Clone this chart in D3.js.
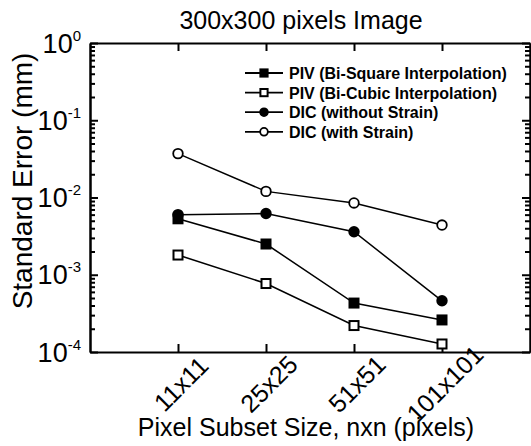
<!DOCTYPE html>
<html>
<head>
<meta charset="utf-8">
<script src="https://cdn.jsdelivr.net/npm/d3@7"></script>
<style>
body { margin: 0; background: #fff; }
svg text { font-family: Arial, "Liberation Sans", sans-serif; fill: #000; }
</style>
</head>
<body>
<div id="chart"></div>
<script>
var categories = ["11x11", "25x25", "51x51", "101x101"];
var pivSquare = [0.0053, 0.0025, 0.00043, 0.00026];
var pivCubic = [0.0018, 0.00077, 0.00022, 0.000127];
var dicNoStrain = [0.0060, 0.0062, 0.0036, 0.00046];
var dicStrain = [0.037, 0.012, 0.0085, 0.0044];
var seriesNames = ["PIV (Bi-Square Interpolation)", "PIV (Bi-Cubic Interpolation)", "DIC (without Strain)", "DIC (with Strain)"];
var yMajor = [1e-4, 1e-3, 1e-2, 1e-1, 1];
var yExp = ["-4", "-3", "-2", "-1", "0"];

var W = 531, H = 446;
// plot box (note: "top" is taken by window.top)
var plotL = 90, plotR = 530, plotT = 43, plotB = 352;

var svg = d3.select("#chart").append("svg")
	.attr("width", W)
	.attr("height", H);

var x = d3.scalePoint().domain(categories).range([plotL, plotR]).padding(1);
var y = d3.scaleLog().domain([1e-4, 1]).range([plotB, plotT]);

// minor ticks 2..9 per decade
var yMinor = [];
for (var e = -4; e < 0; e++)
	for (var m = 2; m <= 9; m++)
		yMinor.push(m * Math.pow(10, e));

function styleAxis(g) {
	g.selectAll("path,line").attr("stroke", "#000").attr("stroke-width", 2);
	g.selectAll("text").remove();
}

svg.append("g").attr("transform", "translate(" + plotL + ",0)")
	.call(d3.axisLeft(y).tickValues(yMajor).tickSize(-8).tickSizeOuter(0)).call(styleAxis);
svg.append("g").attr("transform", "translate(" + plotL + ",0)")
	.call(d3.axisLeft(y).tickValues(yMinor).tickSize(-5).tickSizeOuter(0)).call(styleAxis);
svg.append("g").attr("transform", "translate(" + plotR + ",0)")
	.call(d3.axisRight(y).tickValues(yMajor).tickSize(-8).tickSizeOuter(0)).call(styleAxis);
svg.append("g").attr("transform", "translate(" + plotR + ",0)")
	.call(d3.axisRight(y).tickValues(yMinor).tickSize(-5).tickSizeOuter(0)).call(styleAxis);
svg.append("g").attr("transform", "translate(0," + plotB + ")")
	.call(d3.axisBottom(x).tickSize(-8).tickSizeOuter(0)).call(styleAxis);
svg.append("g").attr("transform", "translate(0," + plotT + ")")
	.call(d3.axisTop(x).tickSize(-8).tickSizeOuter(0)).call(styleAxis);

// y tick labels with superscript
var yl = svg.selectAll(".ylab").data(yMajor).enter().append("text")
	.attr("class", "ylab")
	.attr("x", 81)
	.attr("y", function(d) { return y(d) + 9.5; })
	.attr("text-anchor", "end")
	.style("font-size", "27px");
yl.append("tspan").text("10");
yl.append("tspan").attr("dy", -12).style("font-size", "15px")
	.text(function(d, i) { return yExp[i]; });

// x tick labels, rotated
svg.selectAll(".xlab").data(categories).enter().append("text")
	.attr("class", "xlab")
	.attr("transform", function(d) { return "translate(" + (x(d) + 3) + ",384) rotate(-45)"; })
	.attr("text-anchor", "middle")
	.attr("dy", "0.35em")
	.style("font-size", "25px")
	.text(function(d) { return d; });

svg.append("text")
	.attr("x", 301).attr("y", 29)
	.attr("text-anchor", "middle")
	.style("font-size", "25px")
	.text("300x300 pixels Image");

svg.append("text")
	.attr("x", 306).attr("y", 436)
	.attr("text-anchor", "middle")
	.style("font-size", "25px")
	.text("Pixel Subset Size, nxn (pixels)");

svg.append("text")
	.attr("transform", "translate(32,181) rotate(-90)")
	.attr("text-anchor", "middle")
	.style("font-size", "28px")
	.text("Standard Error (mm)");

var series = [
	{ name: seriesNames[0], values: pivSquare, shape: "square", fill: "#000" },
	{ name: seriesNames[1], values: pivCubic, shape: "square", fill: "#fff" },
	{ name: seriesNames[2], values: dicNoStrain, shape: "circle", fill: "#000" },
	{ name: seriesNames[3], values: dicStrain, shape: "circle", fill: "#fff" }
];

var line = d3.line()
	.x(function(d, i) { return x(categories[i]); })
	.y(function(d) { return y(d); });

function drawMarker(g, s, k) {
	if (s.shape == "square")
		g.append("rect").attr("x", -4.5 * k).attr("y", -4.5 * k).attr("width", 9 * k).attr("height", 9 * k)
			.attr("fill", s.fill).attr("stroke", "#000").attr("stroke-width", 2);
	else
		g.append("circle").attr("r", 4.8 * k)
			.attr("fill", s.fill).attr("stroke", "#000").attr("stroke-width", 1.8);
}

series.forEach(function(s) {
	svg.append("path").datum(s.values)
		.attr("d", line)
		.attr("fill", "none")
		.attr("stroke", "#000")
		.attr("stroke-width", 1.5);
});
series.forEach(function(s) {
	s.values.forEach(function(v, i) {
		var g = svg.append("g").attr("transform", "translate(" + x(categories[i]) + "," + y(v) + ")");
		drawMarker(g, s, 1);
	});
});

// legend
var legend = svg.append("g");
series.forEach(function(s, i) {
	var ly = 73 + i * 19.6;
	legend.append("line").attr("x1", 245).attr("x2", 283).attr("y1", ly).attr("y2", ly)
		.attr("stroke", "#000").attr("stroke-width", 1.8);
	var g = legend.append("g").attr("transform", "translate(264," + ly + ")");
	drawMarker(g, s, 0.8);
	legend.append("text")
		.attr("x", 289).attr("y", ly + 6)
		.style("font-size", "16px")
		.style("font-weight", "bold")
		.text(s.name);
});
</script>
</body>
</html>
